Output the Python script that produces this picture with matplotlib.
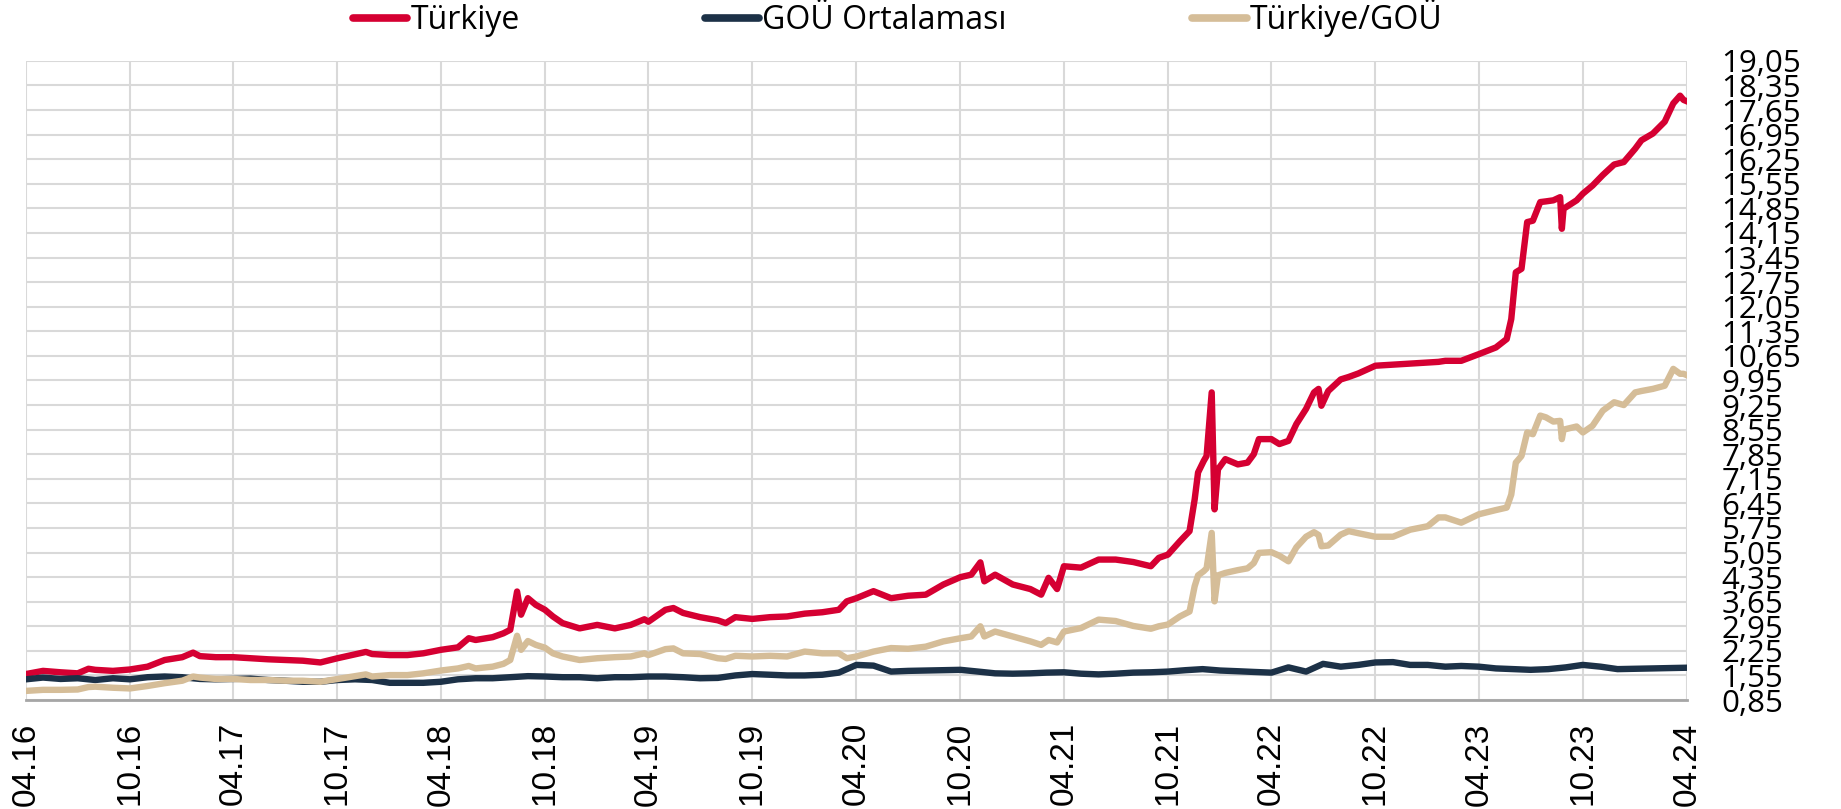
import numpy as np
import pandas as pd
import matplotlib
matplotlib.use("Agg")
import matplotlib.pyplot as plt
import matplotlib.dates as mdates
from matplotlib.ticker import FuncFormatter
from matplotlib.lines import Line2D

# Türkiye and Türkiye/GOÜ share the same observation dates
tr_dates = [
    "2016-04-01", "2016-05-01", "2016-06-01", "2016-07-01", "2016-07-20", "2016-08-01",
    "2016-09-01", "2016-10-01", "2016-11-01", "2016-12-01", "2017-01-01", "2017-01-20",
    "2017-02-01", "2017-03-01", "2017-04-01", "2017-05-01", "2017-06-01", "2017-07-01",
    "2017-08-01", "2017-09-01", "2017-10-01", "2017-11-01", "2017-11-20", "2017-12-01",
    "2018-01-01", "2018-02-01", "2018-03-01", "2018-04-01", "2018-05-01", "2018-05-20",
    "2018-06-01", "2018-07-01", "2018-07-20", "2018-08-01", "2018-08-13", "2018-08-20",
    "2018-09-01", "2018-09-15", "2018-10-01", "2018-10-15", "2018-11-01", "2018-12-01",
    "2019-01-01", "2019-02-01", "2019-03-01", "2019-03-25", "2019-04-01", "2019-05-01",
    "2019-05-15", "2019-06-01", "2019-07-01", "2019-08-01", "2019-08-15", "2019-09-01",
    "2019-10-01", "2019-11-01", "2019-12-01", "2020-01-01", "2020-02-01", "2020-03-01",
    "2020-03-15", "2020-04-01", "2020-05-01", "2020-06-01", "2020-07-01", "2020-08-01",
    "2020-09-01", "2020-10-01", "2020-10-20", "2020-11-05", "2020-11-12", "2020-12-01",
    "2021-01-01", "2021-02-01", "2021-02-20", "2021-03-05", "2021-03-20", "2021-04-01",
    "2021-05-01", "2021-06-01", "2021-07-01", "2021-08-01", "2021-09-01", "2021-09-15",
    "2021-10-01", "2021-10-22", "2021-11-08", "2021-11-17", "2021-11-23", "2021-12-03",
    "2021-12-08", "2021-12-17", "2021-12-22", "2021-12-28", "2022-01-10", "2022-02-01",
    "2022-02-18", "2022-03-01", "2022-03-10", "2022-04-01", "2022-04-15", "2022-05-01",
    "2022-05-15", "2022-06-01", "2022-06-15", "2022-06-23", "2022-06-28", "2022-07-10",
    "2022-08-01", "2022-08-15", "2022-09-01", "2022-10-01", "2022-11-01", "2022-12-01",
    "2023-01-01", "2023-01-20", "2023-02-01", "2023-03-01", "2023-04-01", "2023-05-01",
    "2023-05-20", "2023-05-28", "2023-06-05", "2023-06-15", "2023-06-25", "2023-07-05",
    "2023-07-18", "2023-07-28", "2023-08-10", "2023-08-22", "2023-08-25", "2023-08-28",
    "2023-09-20", "2023-10-01", "2023-10-18", "2023-11-05", "2023-11-25", "2023-12-12",
    "2024-01-01", "2024-01-12", "2024-02-01", "2024-02-22", "2024-03-08", "2024-03-20",
    "2024-03-26", "2024-04-01",
]

turkiye = [
    1.59, 1.68, 1.64, 1.61, 1.74, 1.71,
    1.68, 1.72, 1.80, 1.99, 2.07, 2.20,
    2.10, 2.07, 2.07, 2.04, 2.01, 1.99,
    1.97, 1.92, 2.04, 2.15, 2.22, 2.16,
    2.13, 2.13, 2.18, 2.28, 2.35, 2.61,
    2.56, 2.64, 2.75, 2.85, 3.94, 3.28,
    3.75, 3.56, 3.42, 3.23, 3.04, 2.89,
    2.99, 2.89, 2.99, 3.15, 3.08, 3.42,
    3.47, 3.33, 3.21, 3.12, 3.04, 3.21,
    3.16, 3.21, 3.23, 3.31, 3.35, 3.42,
    3.66, 3.75, 3.95, 3.75, 3.82, 3.85,
    4.14, 4.35, 4.42, 4.77, 4.23, 4.42,
    4.14, 4.01, 3.85, 4.33, 4.01, 4.66,
    4.62, 4.85, 4.85, 4.78, 4.66, 4.90,
    4.99, 5.37, 5.66, 6.56, 7.33, 7.66,
    7.80, 9.61, 6.28, 7.42, 7.71, 7.56,
    7.61, 7.85, 8.28, 8.28, 8.14, 8.23,
    8.71, 9.14, 9.61, 9.71, 9.23, 9.65,
    9.98, 10.05, 10.15, 10.37, 10.40, 10.43,
    10.46, 10.48, 10.51, 10.51, 10.70, 10.89,
    11.13, 11.70, 13.03, 13.13, 14.46, 14.50,
    15.03, 15.05, 15.08, 15.17, 14.27, 14.84,
    15.08, 15.27, 15.50, 15.80, 16.10, 16.17,
    16.55, 16.79, 16.98, 17.32, 17.84, 18.06,
    17.94, 17.90,
]

ratio = [
    1.11, 1.14, 1.14, 1.15, 1.22, 1.23,
    1.20, 1.18, 1.25, 1.33, 1.40, 1.52,
    1.49, 1.45, 1.45, 1.42, 1.42, 1.40,
    1.40, 1.37, 1.45, 1.53, 1.58, 1.52,
    1.56, 1.56, 1.61, 1.69, 1.75, 1.82,
    1.75, 1.80, 1.88, 1.99, 2.68, 2.28,
    2.53, 2.42, 2.34, 2.18, 2.09, 1.99,
    2.04, 2.07, 2.09, 2.18, 2.13, 2.30,
    2.32, 2.18, 2.16, 2.04, 2.02, 2.11,
    2.09, 2.11, 2.09, 2.23, 2.18, 2.18,
    2.04, 2.09, 2.23, 2.33, 2.31, 2.37,
    2.52, 2.61, 2.66, 2.95, 2.66, 2.80,
    2.66, 2.52, 2.42, 2.56, 2.49, 2.80,
    2.90, 3.14, 3.10, 2.96, 2.88, 2.95,
    3.00, 3.23, 3.37, 4.09, 4.40, 4.52,
    4.60, 5.61, 3.66, 4.40, 4.47, 4.55,
    4.60, 4.75, 5.04, 5.06, 4.96, 4.80,
    5.20, 5.50, 5.63, 5.55, 5.23, 5.25,
    5.56, 5.66, 5.60, 5.50, 5.50, 5.70,
    5.80, 6.05, 6.05, 5.90, 6.14, 6.26,
    6.33, 6.70, 7.61, 7.80, 8.47, 8.42,
    8.95, 8.90, 8.78, 8.80, 8.28, 8.55,
    8.64, 8.47, 8.66, 9.09, 9.33, 9.25,
    9.61, 9.65, 9.71, 9.80, 10.28, 10.14,
    10.14, 10.10,
]

# GOÜ average, monthly
gou_dates = pd.date_range("2016-04-01", "2024-04-01", freq="MS")
gou = [
    1.44, 1.49, 1.45, 1.47, 1.42, 1.47, 1.44, 1.50, 1.52,
    1.50, 1.45, 1.44, 1.45, 1.46, 1.42, 1.40, 1.37, 1.37, 1.42, 1.44, 1.42,
    1.34, 1.34, 1.34, 1.37, 1.44, 1.47, 1.47, 1.50, 1.53, 1.52, 1.50, 1.50,
    1.47, 1.50, 1.50, 1.52, 1.52, 1.50, 1.47, 1.48, 1.55, 1.59, 1.57, 1.55,
    1.55, 1.57, 1.63, 1.85, 1.83, 1.66, 1.68, 1.69, 1.70, 1.71, 1.66, 1.61,
    1.60, 1.61, 1.63, 1.64, 1.60, 1.58, 1.60, 1.63, 1.64, 1.66, 1.70, 1.73,
    1.69, 1.67, 1.65, 1.63, 1.78, 1.66, 1.88, 1.80, 1.85, 1.92, 1.93, 1.85,
    1.85, 1.80, 1.82, 1.80, 1.75, 1.73, 1.71, 1.73, 1.78, 1.85, 1.80, 1.73,
    1.74, 1.75, 1.76, 1.77,
]

labels = ["Türkiye", "GOÜ Ortalaması", "Türkiye/GOÜ"]
colors = ["#D50032", "#1C3147", "#D5BD98"]

yticks = np.round(0.85 + 0.7 * np.arange(27), 2)
xticks = pd.date_range("2016-04-01", "2024-04-01", freq="6MS")

plt.rcParams["font.family"] = ["Open Sans", "DejaVu Sans"]

fig = plt.figure(figsize=(18.41, 8.09), dpi=100)
ax = fig.add_axes([0.0141, 0.1347, 0.9022, 0.7900])

tr_x = pd.to_datetime(tr_dates)
lw = 4.6
ax.plot(tr_x, turkiye, color=colors[0], lw=lw, solid_joinstyle="round")
ax.plot(gou_dates, gou, color=colors[1], lw=lw, solid_joinstyle="round")
ax.plot(tr_x, ratio, color=colors[2], lw=lw, solid_joinstyle="round")

ax.set_xlim(pd.Timestamp("2016-04-01"), pd.Timestamp("2024-04-01"))
ax.set_ylim(yticks[0], yticks[-1])

ax.set_yticks(yticks)
ax.yaxis.tick_right()
ax.yaxis.set_major_formatter(FuncFormatter(lambda v, p: f"{v:.2f}".replace(".", ",")))
ax.tick_params(axis="y", length=0, pad=25, labelsize=22.5, labelcolor="#000000")

ax.set_xticks(xticks)
ax.xaxis.set_major_formatter(mdates.DateFormatter("%m.%y"))
ax.tick_params(axis="x", length=0, pad=16, labelsize=24, labelrotation=90,
               labelfontfamily="Liberation Sans")

ax.grid(True, color="#D9D9D9", lw=1.5)
ax.set_axisbelow(True)
for s in ["top", "left", "right"]:
    ax.spines[s].set_visible(False)
ax.spines["bottom"].set_color("#A6A6A6")
ax.spines["bottom"].set_linewidth(2)

handles = [Line2D([], [], color=c, lw=5.5, solid_capstyle="round") for c in colors]
fig.legend(handles, labels, loc="center", bbox_to_anchor=(0.4876, 0.978), ncol=3,
           frameon=False, fontsize=23, handlelength=1.7, handletextpad=0.1,
           columnspacing=5.8, borderpad=0)

fig.savefig("out.png", dpi=100)
